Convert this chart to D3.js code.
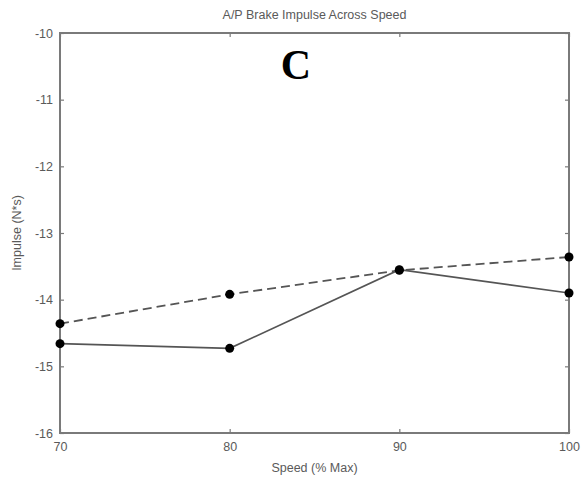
<!DOCTYPE html>
<html><head><meta charset="utf-8">
<script src="https://cdn.jsdelivr.net/npm/d3@7"></script>
<style>body{margin:0;background:#fff}svg{display:block}</style>
</head><body>
<script>
const speeds = [70, 80, 90, 100];
const dashedSeries = [-14.36, -13.92, -13.56, -13.36];
const solidSeries = [-14.66, -14.73, -13.55, -13.90];
const xTicks = [70, 80, 90, 100];
const yTicks = [-10, -11, -12, -13, -14, -15, -16];
const titleText = "A/P Brake Impulse Across Speed";
const xLabel = "Speed (% Max)";
const yLabel = "Impulse (N*s)";
const panelLetter = "C";

const W = 581, H = 482;
const m = {l: 60, r: 12, t: 33, b: 49};
const svg = d3.select("body").append("svg").attr("width", W).attr("height", H);
const x = d3.scaleLinear().domain([70, 100]).range([m.l, W - m.r]);
const y = d3.scaleLinear().domain([-16, -10]).range([H - m.b, m.t]);
const axisColor = "#7a7a7a", textColor = "#5a5a5a";
const font = "Arial, 'Liberation Sans', sans-serif";

function styleAxis(g) {
  g.select(".domain").remove();
  g.selectAll("line").attr("stroke", axisColor).attr("stroke-width", 1.2);
  g.selectAll("text").attr("fill", textColor).style("font-family", font).style("font-size", "12.5px");
}
// bottom axis (ticks inward)
svg.append("g").attr("transform", `translate(0,${y(-16)})`)
  .call(d3.axisBottom(x).tickValues(xTicks).tickSize(-4).tickPadding(9).tickFormat(d3.format("d")))
  .call(styleAxis);
// top ticks
svg.append("g").attr("transform", `translate(0,${y(-10)})`)
  .call(d3.axisTop(x).tickValues(xTicks).tickSize(-4).tickFormat(""))
  .call(styleAxis);
// left axis
svg.append("g").attr("transform", `translate(${x(70)},0)`)
  .call(d3.axisLeft(y).tickValues(yTicks).tickSize(-4).tickPadding(7).tickFormat(d => d3.format("d")(d).replace("−", "-")))
  .call(styleAxis);
// right ticks
svg.append("g").attr("transform", `translate(${x(100)},0)`)
  .call(d3.axisRight(y).tickValues(yTicks).tickSize(-4).tickFormat(""))
  .call(styleAxis);
// box
svg.append("rect").attr("x", x(70)).attr("y", y(-10))
  .attr("width", x(100) - x(70)).attr("height", y(-16) - y(-10))
  .attr("fill", "none").attr("stroke", axisColor).attr("stroke-width", 2);

const line = d3.line().x((d, i) => x(speeds[i])).y(d => y(d));
svg.append("path").datum(dashedSeries).attr("d", line)
  .attr("fill", "none").attr("stroke", "#555").attr("stroke-width", 1.8).attr("stroke-dasharray", "9,5");
svg.append("path").datum(solidSeries).attr("d", line)
  .attr("fill", "none").attr("stroke", "#555").attr("stroke-width", 1.6);
[dashedSeries, solidSeries].forEach(s => {
  svg.selectAll(null).data(s).enter().append("circle")
    .attr("cx", (d, i) => x(speeds[i])).attr("cy", d => y(d)).attr("r", 4.5).attr("fill", "#000");
});

svg.append("text").attr("x", (x(70) + x(100)) / 2).attr("y", 19).attr("text-anchor", "middle")
  .attr("fill", textColor).style("font-family", font).style("font-size", "12.5px").text(titleText);
svg.append("text").attr("x", (x(70) + x(100)) / 2).attr("y", 472).attr("text-anchor", "middle")
  .attr("fill", textColor).style("font-family", font).style("font-size", "12.5px").text(xLabel);
svg.append("text").attr("transform", `translate(21,${(y(-10) + y(-16)) / 2}) rotate(-90)`).attr("text-anchor", "middle")
  .attr("fill", textColor).style("font-family", font).style("font-size", "12.5px").text(yLabel);
svg.append("text").attr("x", 296).attr("y", 79).attr("text-anchor", "middle")
  .attr("fill", "#000").style("font-family", "'Liberation Serif', 'Times New Roman', serif")
  .style("font-weight", "bold").style("font-size", "42px").text(panelLetter);
</script>
</body></html>
